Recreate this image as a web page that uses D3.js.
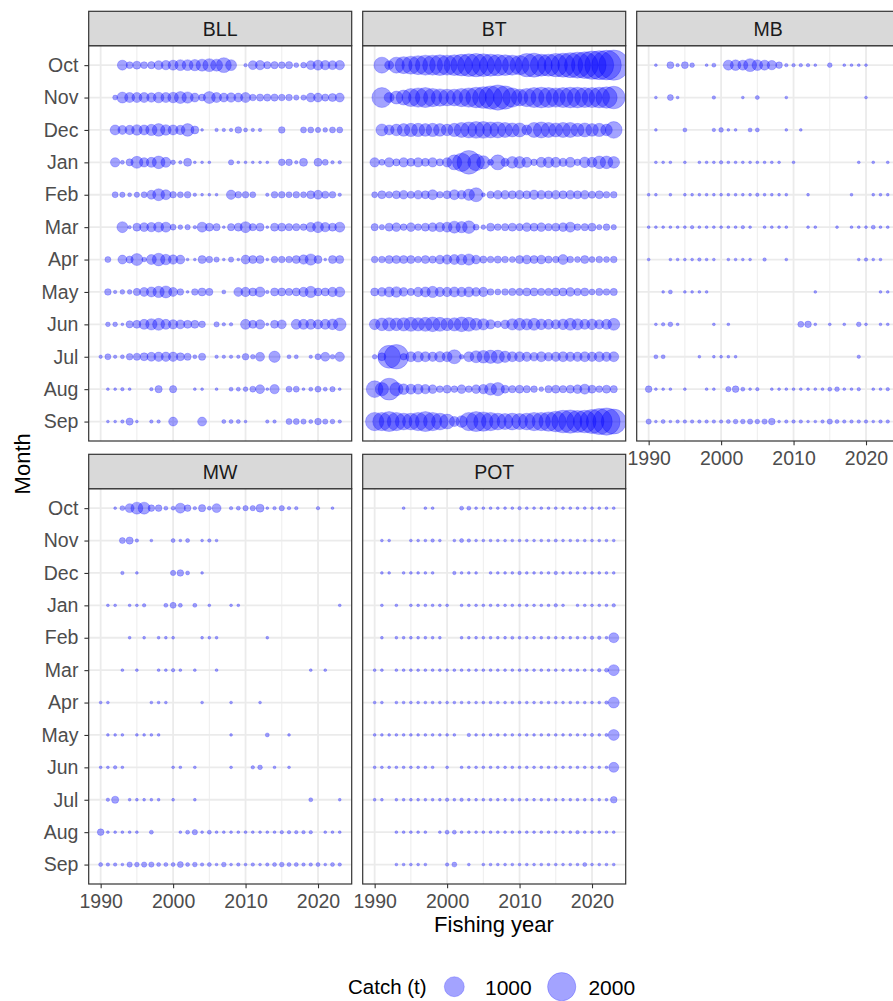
<!DOCTYPE html>
<html>
<head>
<meta charset="utf-8">
<script src="https://cdn.jsdelivr.net/npm/d3@7"></script>
<style>
  body { margin: 0; background: #ffffff; }
  svg { display: block; font-family: "Liberation Sans", Arial, Helvetica, sans-serif; }
</style>
</head>
<body>
<svg id="chart" width="893" height="1001"></svg>
<script>
// Fishing years shown on the x axis
const years = [1990,1991,1992,1993,1994,1995,1996,1997,1998,1999,
               2000,2001,2002,2003,2004,2005,2006,2007,2008,2009,
               2010,2011,2012,2013,2014,2015,2016,2017,2018,2019,
               2020,2021,2022,2023];

// Months of the fishing year (Oct - Sep)
const months = ["Oct","Nov","Dec","Jan","Feb","Mar","Apr","May","Jun","Jul","Aug","Sep"];

// Fishing methods (one facet each)
const methods = ["BLL","BT","MB","MW","POT"];

// Catch (t) by month (rows, Oct..Sep) and fishing year (columns, 1990..2023)
const catchBLL = [
  [0,0,0,250,120,160,120,130,200,220,250,300,300,320,360,420,360,560,300,0,30,200,220,130,130,110,130,60,80,200,250,220,200,220],
  [0,0,60,300,250,250,250,220,280,250,280,360,320,200,120,360,250,200,220,200,250,110,130,130,130,110,110,70,70,200,200,130,160,200],
  [0,0,250,200,220,280,250,320,400,280,250,220,400,160,20,0,30,30,30,110,40,30,30,0,0,110,0,0,90,90,70,55,90,90],
  [0,0,220,40,130,360,220,250,400,250,55,30,160,20,20,20,0,0,70,20,20,20,20,20,0,110,110,30,160,0,160,90,30,30],
  [0,0,90,70,40,70,90,200,360,250,110,90,110,30,20,20,20,0,220,110,110,90,0,30,110,110,90,110,90,160,200,130,110,30],
  [0,0,0,300,30,160,200,220,250,250,90,55,70,30,250,160,130,20,130,160,300,130,160,20,160,160,130,130,110,220,300,220,160,250],
  [0,90,0,200,130,360,55,250,400,280,220,200,20,20,160,110,70,20,70,20,200,160,160,20,110,110,110,160,220,320,160,20,160,160],
  [0,110,30,55,55,130,200,250,320,360,200,110,20,110,160,130,0,40,0,200,220,160,250,30,160,160,130,160,220,320,160,160,220,250],
  [0,55,55,20,130,160,250,320,360,250,220,200,160,160,110,0,70,30,30,0,250,160,220,20,160,200,0,250,250,250,220,250,280,400],
  [30,90,30,40,110,130,160,200,220,220,220,160,130,40,130,0,30,30,30,30,110,55,200,0,320,0,40,40,0,30,90,200,55,220],
  [0,20,20,30,20,0,0,30,130,0,130,0,0,20,20,0,20,0,40,40,55,90,200,20,220,0,90,90,20,40,90,40,70,20],
  [0,20,20,30,130,20,0,30,30,0,200,0,0,0,200,0,0,40,40,40,20,0,0,30,30,0,90,90,70,40,110,70,55,30]
];

const catchBT = [
  [0,640,200,640,720,810,900,1000,1000,1070,1000,1070,1170,1280,1360,1280,1210,1140,1070,1000,940,1360,1440,1210,1210,1360,1440,1560,1690,1780,2000,2100,2200,2300],
  [0,1000,250,420,560,810,930,1000,840,750,700,700,840,930,1070,1170,1360,1600,1360,930,700,840,1000,1070,1000,930,1000,1070,1070,1000,1000,1070,1140,1280],
  [0,360,250,340,400,440,440,400,440,400,340,440,560,640,700,700,640,640,560,490,490,250,560,640,560,490,560,560,440,490,400,440,340,700],
  [220,90,220,130,220,160,220,160,220,130,220,560,840,1400,700,440,90,560,170,340,340,250,110,250,280,250,170,250,110,280,250,400,400,340],
  [90,160,110,160,190,130,190,160,250,110,160,250,190,320,490,40,130,190,190,160,190,160,220,190,160,190,160,190,160,190,130,160,110,110],
  [130,70,160,190,110,190,110,160,190,220,250,360,320,400,90,55,160,110,130,160,130,190,160,190,130,160,190,250,110,130,160,70,110,70],
  [110,110,160,160,160,160,110,160,130,190,220,250,280,320,190,130,110,130,110,90,160,190,160,190,130,110,250,110,90,160,90,110,90,110],
  [160,190,250,280,190,130,220,250,320,220,220,250,220,250,190,220,110,90,110,130,130,160,160,130,130,160,160,190,130,160,90,130,110,130],
  [280,400,440,400,440,490,440,490,540,490,400,440,540,490,360,320,220,110,190,320,360,320,360,280,250,220,280,360,320,250,280,220,250,360],
  [55,160,1300,1500,110,250,280,250,220,280,250,490,55,250,360,400,440,440,320,250,250,220,190,250,190,220,250,220,220,250,220,250,220,250],
  [700,440,1200,440,280,250,250,220,190,110,160,110,190,110,190,220,360,440,160,130,160,130,110,55,130,160,130,160,190,250,160,110,160,130],
  [840,840,1000,840,700,700,840,1000,840,700,560,250,340,840,1000,930,840,700,640,700,640,700,840,840,930,1070,1280,1360,1210,1280,1440,1690,1870,1560]
];

const catchMB = [
  [0,20,0,120,30,120,55,0,20,40,0,250,280,250,420,280,250,220,110,30,30,30,30,20,0,55,0,20,20,20,20,0,0,0],
  [0,20,0,90,20,0,0,0,0,30,0,0,0,20,0,40,0,0,0,20,0,0,0,0,0,0,0,0,0,0,20,0,0,0],
  [0,20,0,0,0,40,0,0,0,30,55,20,20,0,40,40,0,0,0,20,0,20,0,0,0,0,0,0,0,0,0,0,0,0],
  [0,20,20,20,0,20,0,20,20,20,30,20,20,20,20,20,20,20,20,0,20,0,0,0,0,0,0,0,0,20,0,20,0,20],
  [20,20,0,20,0,20,20,20,20,20,20,20,20,20,20,30,20,20,20,20,0,0,20,0,0,0,0,0,20,0,0,20,20,20],
  [20,20,20,20,20,20,30,20,20,20,20,20,20,30,20,0,20,20,20,20,0,0,20,20,0,0,20,0,20,20,20,40,20,20],
  [20,0,0,20,20,20,20,30,20,20,0,20,20,20,20,0,30,0,0,20,0,0,0,0,0,0,0,0,0,20,30,20,20,0],
  [0,0,20,40,0,20,20,20,20,0,0,0,0,0,0,0,0,0,0,0,0,0,0,20,0,0,0,0,0,0,0,0,20,20],
  [0,20,30,55,20,0,0,0,0,20,0,20,0,0,0,0,0,0,0,0,0,90,110,20,0,20,0,20,0,55,20,0,20,20],
  [0,40,40,0,0,0,0,20,0,20,20,20,20,0,0,0,0,0,0,0,0,0,0,0,0,0,0,0,0,30,0,0,0,0],
  [110,20,20,20,0,20,0,0,20,20,0,70,110,40,20,30,0,20,20,20,20,20,20,20,20,40,55,20,20,30,0,20,20,30],
  [70,20,40,20,30,30,30,30,30,30,30,40,55,55,70,55,70,110,20,30,30,30,20,20,30,70,40,30,30,30,30,20,30,30]
];

const catchMW = [
  [0,0,20,60,200,360,360,110,110,40,40,250,110,30,130,40,200,0,30,40,70,70,160,20,30,70,30,30,0,0,30,0,20,0],
  [0,0,0,90,130,30,0,20,0,0,40,20,40,0,20,30,20,0,0,0,0,0,0,0,0,0,0,0,0,0,0,0,0,0],
  [0,0,0,30,0,20,0,0,0,0,70,110,40,0,20,0,0,0,0,0,0,0,0,0,0,0,0,0,0,0,0,0,0,0],
  [0,20,20,0,20,20,30,0,0,40,90,40,0,40,0,20,0,0,20,20,0,0,0,0,0,0,0,0,0,0,0,0,0,20],
  [0,0,0,0,20,0,20,0,20,20,20,0,0,0,20,20,20,0,0,0,0,0,0,20,0,0,0,0,0,0,0,0,0,0],
  [0,0,0,20,0,20,0,0,20,20,30,20,0,20,0,0,20,0,0,0,0,0,0,0,0,0,0,0,0,20,0,20,0,0],
  [20,20,0,0,0,0,0,20,20,20,0,0,0,0,20,0,0,0,20,0,0,0,20,0,0,0,0,0,0,0,0,0,0,0],
  [0,20,20,20,0,20,20,20,20,0,0,0,0,0,0,0,0,0,20,0,0,0,0,40,0,0,20,0,0,0,0,0,0,0],
  [20,20,30,20,0,0,0,0,0,0,20,20,0,20,0,0,0,0,20,0,0,30,55,0,20,0,20,0,0,0,0,0,0,0],
  [0,30,130,0,20,20,20,20,20,0,20,0,0,20,0,0,0,0,0,0,0,0,0,0,0,0,0,0,0,40,0,0,0,20],
  [110,20,20,20,20,20,0,40,0,0,0,20,40,70,20,40,20,20,20,20,20,20,20,20,20,30,30,30,30,30,0,20,20,20],
  [40,30,30,20,70,55,70,70,40,40,40,90,40,55,30,40,20,55,20,30,20,30,20,30,40,55,40,40,30,30,40,20,40,30]
];

const catchPOT = [
  [0,0,0,0,20,0,0,20,20,0,0,0,40,40,20,20,20,20,20,20,30,20,20,20,20,20,20,20,20,20,20,20,20,20],
  [0,20,20,0,0,20,20,20,30,20,0,20,40,30,20,20,20,20,20,20,20,20,20,20,20,25,20,20,20,20,20,20,20,20],
  [0,20,20,0,20,20,20,20,20,0,0,30,20,20,20,0,20,20,20,20,30,20,20,20,20,30,20,20,20,20,20,20,20,20],
  [0,20,0,20,0,20,20,20,20,20,20,0,20,20,20,20,20,20,20,20,20,20,20,20,20,30,20,0,20,20,20,20,20,30],
  [0,20,0,20,20,20,20,20,20,20,0,0,20,20,20,20,20,20,20,25,20,20,20,20,20,20,20,20,20,20,30,30,20,250],
  [20,20,0,20,20,20,20,20,20,20,20,20,20,20,20,20,20,20,20,20,20,20,20,20,20,20,20,20,20,20,20,30,40,300],
  [20,20,0,20,20,20,20,20,20,20,20,20,20,20,20,20,20,20,20,20,20,20,20,20,20,20,20,20,20,20,20,20,30,300],
  [20,20,20,20,20,20,20,20,20,20,20,20,0,30,20,20,20,20,20,20,20,20,20,20,20,20,20,20,20,20,25,20,25,300],
  [20,20,20,20,20,20,20,20,20,0,20,0,20,20,20,20,20,20,20,20,20,20,20,20,20,20,20,20,20,20,20,20,20,250],
  [20,20,0,20,20,20,20,20,20,20,30,20,30,20,20,20,20,20,20,25,20,20,20,20,20,20,20,20,20,20,20,20,20,110],
  [0,0,0,20,20,20,20,20,0,20,40,40,20,20,20,20,20,20,20,20,20,20,20,20,20,20,20,20,30,20,20,20,20,20],
  [0,0,0,20,20,20,20,20,0,0,30,60,0,20,0,20,20,20,20,20,20,20,20,20,20,20,20,20,20,40,20,20,20,20]
];

// Axis ticks and legend keys
const xTickValues = [1990, 2000, 2010, 2020];
const xMinorValues = [1995, 2005, 2015];
const legendValues = [1000, 2000];

const catchByMethod = { BLL: catchBLL, BT: catchBT, MB: catchMB, MW: catchMW, POT: catchPOT };

// ---- layout ----
const svg = d3.select("#chart");
const panelW = 263, panelH = 395.3, stripH = 34.4;
const colX = [88.7, 362.7, 636.7];
const rowY = [45.7, 488.7];
const facetPos = {
  BLL: { col: 0, row: 0 }, BT: { col: 1, row: 0 }, MB: { col: 2, row: 0 },
  MW:  { col: 0, row: 1 }, POT: { col: 1, row: 1 }
};

const fill = "#0000ff";
const alpha = 0.36;

const x = d3.scaleLinear().domain([1988.35, 2024.65]).range([0, panelW]);
const y = d3.scalePoint().domain(months).range([0, panelH]).padding(0.6);
const r = d3.scaleSqrt().domain([0, 1000]).range([0, 10]);

const defs = svg.append("defs");
defs.append("clipPath").attr("id", "panel-clip")
  .append("rect").attr("width", panelW).attr("height", panelH);

function styleAxis(g) {
  g.select(".domain").remove();
  g.selectAll(".tick line").attr("stroke", "#333333").attr("stroke-width", 1.1);
  g.selectAll(".tick text").attr("fill", "#4d4d4d").attr("font-size", 19.5)
    .attr("font-family", "'Liberation Sans', Arial, sans-serif");
}

methods.forEach(m => {
  const pos = facetPos[m];
  const g = svg.append("g").attr("transform", `translate(${colX[pos.col]},${rowY[pos.row]})`);

  // panel background and grid
  g.append("rect").attr("width", panelW).attr("height", panelH).attr("fill", "#ffffff");
  g.append("g").selectAll("line").data(xMinorValues).join("line")
    .attr("x1", d => x(d)).attr("x2", d => x(d)).attr("y1", 0).attr("y2", panelH)
    .attr("stroke", "#ebebeb").attr("stroke-width", 0.9);
  g.append("g").selectAll("line").data(xTickValues).join("line")
    .attr("x1", d => x(d)).attr("x2", d => x(d)).attr("y1", 0).attr("y2", panelH)
    .attr("stroke", "#ebebeb").attr("stroke-width", 1.8);
  g.append("g").selectAll("line").data(months).join("line")
    .attr("x1", 0).attr("x2", panelW).attr("y1", d => y(d)).attr("y2", d => y(d))
    .attr("stroke", "#ebebeb").attr("stroke-width", 1.8);

  // bubbles
  const pts = [];
  catchByMethod[m].forEach((row, mi) => {
    row.forEach((v, yi) => {
      if (v > 0) pts.push({ month: months[mi], year: years[yi], value: v });
    });
  });
  g.append("g").attr("clip-path", "url(#panel-clip)")
    .selectAll("circle").data(pts).join("circle")
    .attr("cx", d => x(d.year)).attr("cy", d => y(d.month)).attr("r", d => r(d.value))
    .attr("fill", fill).attr("fill-opacity", alpha)
    .attr("stroke", fill).attr("stroke-opacity", alpha).attr("stroke-width", 0.6);

  // panel border
  g.append("rect").attr("width", panelW).attr("height", panelH)
    .attr("fill", "none").attr("stroke", "#333333").attr("stroke-width", 1.2);

  // strip
  g.append("rect").attr("y", -stripH).attr("width", panelW).attr("height", stripH)
    .attr("fill", "#d9d9d9").attr("stroke", "#333333").attr("stroke-width", 1.2);
  g.append("text").attr("x", panelW / 2).attr("y", -stripH / 2).attr("dy", "0.36em")
    .attr("text-anchor", "middle").attr("fill", "#1a1a1a").attr("font-size", 19.5).text(m);

  // axes
  if (pos.col === 0) {
    const ax = g.append("g").call(d3.axisLeft(y).tickSize(4.3).tickPadding(6));
    styleAxis(ax);
  }
  if (pos.row === 1 || m === "MB") {
    const ax = g.append("g").attr("transform", `translate(0,${panelH})`)
      .call(d3.axisBottom(x).tickValues(xTickValues).tickFormat(d3.format("d")).tickSize(4.3).tickPadding(6));
    styleAxis(ax);
  }
});

// axis titles
svg.append("text").attr("x", 494).attr("y", 932).attr("text-anchor", "middle")
  .attr("fill", "#000").attr("font-size", 22).text("Fishing year");
svg.append("text").attr("transform", "translate(30,463.8) rotate(-90)").attr("text-anchor", "middle")
  .attr("fill", "#000").attr("font-size", 22).text("Month");

// size legend
const leg = svg.append("g");
leg.append("text").attr("x", 348).attr("y", 994).attr("fill", "#000").attr("font-size", 20.5).text("Catch (t)");
const legKeyX = [454.3, 561.7];
legendValues.forEach((v, i) => {
  leg.append("circle").attr("cx", legKeyX[i]).attr("cy", 986.7).attr("r", r(v))
    .attr("fill", fill).attr("fill-opacity", alpha)
    .attr("stroke", fill).attr("stroke-opacity", alpha).attr("stroke-width", 0.6);
  leg.append("text").attr("x", legKeyX[i] + 30.7 - (i ? 4 : 0)).attr("y", 994.5)
    .attr("fill", "#000").attr("font-size", 21).text(d3.format("d")(v));
});
</script>
</body>
</html>
